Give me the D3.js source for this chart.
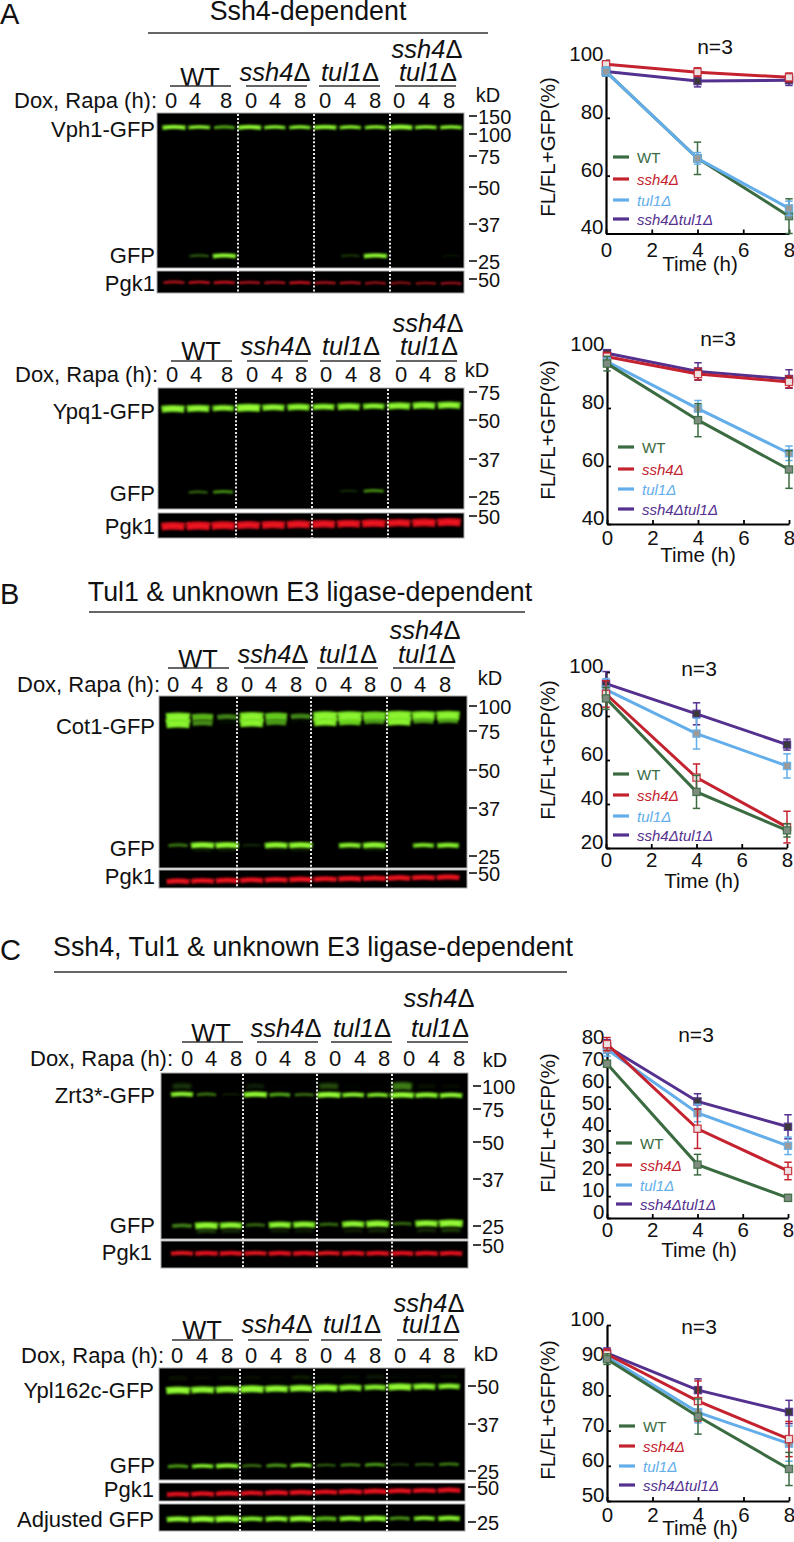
<!DOCTYPE html>
<html><head><meta charset="utf-8">
<script src="https://cdn.jsdelivr.net/npm/d3@7"></script>
<style>
html,body{margin:0;padding:0;background:#fff}
svg{display:block}
text{font-family:"Liberation Sans",Arial,sans-serif;fill:#111}
</style></head><body><svg id="c" width="794" height="1542"></svg>
<script>
// ---------- DATA ----------
const hours = [0, 4, 8];
const seriesNames = ['WT', 'ssh4Δ', 'tul1Δ', 'ssh4Δtul1Δ'];
const genotypes = ['WT', 'ssh4Δ', 'tul1Δ', 'ssh4Δ|tul1Δ'];
const laneHours = [0, 4, 8, 0, 4, 8, 0, 4, 8, 0, 4, 8];

// densitometry means and errors (rows: WT, ssh4, tul1, double)
const vph1Mean = [[96, 66, 46], [98.5, 95.8, 94], [96, 66, 48.7], [96, 92.7, 93]];
const vph1Err = [[1.5, 5.6, 6], [1.2, 1.5, 1.5], [1.5, 2, 2.5], [1.5, 2, 1.8]];
const ypq1Mean = [[95.3, 75.8, 58.8], [97.7, 91.7, 89], [96, 79.8, 64.4], [98.9, 92.6, 90]];
const ypq1Err = [[2.5, 5.7, 6.5], [1.5, 2, 2], [1.5, 2.8, 2.5], [1.2, 3, 3.2]];
const cot1Mean = [[88, 45.5, 28], [90, 52, 29.5], [92, 72, 57.3], [94.7, 81, 67]];
const cot1Err = [[5, 7.5, 3], [6, 6.2, 7.2], [5, 7, 5.5], [5.5, 5, 2.5]];
const zrt3Mean = [[70.5, 24.4, 9.2], [79.5, 40.8, 21.5], [77, 48, 33], [78.5, 53.3, 41.7]];
const zrt3Err = [[1.5, 4.7, 1.5], [3, 9, 4], [3, 4, 4], [3, 3.5, 5.5]];
const ypl162Mean = [[90.3, 74, 59.1], [91.7, 78.4, 67.6], [91, 75.2, 66.3], [92, 81.5, 75.3]];
const ypl162Err = [[1.5, 5, 4.7], [1.5, 5.7, 5], [1.5, 3, 5], [1.5, 3.2, 3.3]];

// axis ticks
const ticksA = [40, 60, 80, 100];
const ticksB = [20, 40, 60, 80, 100];
const ticksC = [0, 10, 20, 30, 40, 50, 60, 70, 80];
const ticksD = [50, 60, 70, 80, 90, 100];
const timeTicks = [0, 2, 4, 6, 8];

// band intensities per lane (0..1)
const vph1FL = [.95, .75, .55, .95, .7, .7, .9, .7, .7, 1, .75, .75];
const vph1GFP = [0, .3, .95, 0, 0, 0, 0, .2, .95, 0, 0, .1];
const vph1Pgk = [.6, .65, .65, .6, .6, .65, .6, .6, .55, .5, .5, .55];
const ypq1FL = [.9, .85, .7, 1, .8, .8, .75, .8, .7, .85, .85, .85];
const ypq1GFP = [0, .3, .45, 0, 0, .04, 0, .15, .45, 0, 0, 0];
const ypq1Pgk = [.95, 1, .95, .9, .9, .9, .9, .9, .95, .9, .95, .95];
const cot1Upper = [1, .6, .4, .95, .7, .42, 1, 1, .85, 1, .9, .92];
const cot1Lower = [1, .45, .05, .95, .5, .05, .9, .75, .5, 1, .5, .5];
const cot1GFP = [.35, .95, .95, .15, .9, .95, 0, .75, .9, 0, .65, .75];
const cot1GFPlow = [0, .2, .2, 0, .15, .2, 0, .1, .2, 0, .05, .05];
const cot1Pgk = [.9, .9, .9, .9, .9, .9, .9, .9, .9, .9, .9, .9];
const zrt3FL = [.8, .35, .12, .95, .55, .35, 1, .75, .65, 1, .85, .85];
const zrt3Smear = [.2, .03, 0, .14, .04, .03, .25, .05, .04, .35, .1, .08];
const zrt3GFP = [.4, .9, .8, .3, .8, .8, .3, .8, .9, .3, .85, 1];
const zrt3GFPlow = [.05, .3, .25, 0, .2, .2, 0, .2, .25, 0, .25, .3];
const zrt3Pgk = [.8, .85, .85, .8, .85, .85, .8, .85, .85, .85, .85, .85];
const ypl162FL = [1, .9, .9, 1, .9, .9, .95, .8, .7, .95, .8, .7];
const ypl162Smear = [.12, .08, .1, .1, .08, .15, .06, .1, .14, .08, .08, .1];
const ypl162GFP = [.5, .7, .85, .35, .5, .65, .3, .4, .5, .2, .3, .4];
const ypl162Pgk = [.85, .9, .9, .85, .9, .9, .9, .95, .95, .9, .9, .9];
const ypl162Adj = [.85, .95, 1, .7, .8, .9, .6, .75, .85, .45, .65, .75];

// ---------- STYLES / LAYOUT ----------
const seriesColor = ['#3a6b41', '#c4222e', '#63aeea', '#54308f'];
const markerFill = ['#7f8c80', '#ece2e2', '#9a9a9a', '#3a3a3a'];

const svg = d3.select('#c');
const defs = svg.append('defs');
defs.append('filter').attr('id', 'soft').attr('filterUnits', 'userSpaceOnUse').attr('x', 0).attr('y', 0).attr('width', 794).attr('height', 1542)
  .append('feGaussianBlur').attr('stdDeviation', .85);
defs.append('filter').attr('id', 'soft2').attr('filterUnits', 'userSpaceOnUse').attr('x', 0).attr('y', 0).attr('width', 794).attr('height', 1542)
  .append('feGaussianBlur').attr('stdDeviation', 1.8);

function txt(x, y, s, size, anchor, opts) {
  const t = svg.append('text').attr('x', x).attr('y', y).attr('font-size', size).attr('text-anchor', anchor || 'start');
  if (opts && opts.italic) t.attr('font-style', 'italic');
  if (opts && opts.fill) t.style('fill', opts.fill);
  if (opts && opts.rotate) t.attr('transform', `rotate(-90 ${x} ${y})`);
  t.text(s);
  return t;
}
function greekUpright(sel) {
  const s = sel.text();
  sel.text(null);
  s.split(/(Δ)/).filter(Boolean).forEach(p => sel.append('tspan').attr('font-style', p === 'Δ' ? 'normal' : 'italic').text(p));
}

const headers = [
  {letter: 'A', lx: 0, ly: 24, title: 'Ssh4-dependent', tx: 308, ty: 20, rule: [148, 488, 33]},
  {letter: 'B', lx: 0, ly: 604, title: 'Tul1 & unknown E3 ligase-dependent', tx: 310, ty: 601, rule: [89, 525, 612]},
  {letter: 'C', lx: 0, ly: 960, title: 'Ssh4, Tul1 & unknown E3 ligase-dependent', tx: 313, ty: 956, rule: [54, 567, 972]}
];
headers.forEach(h => {
  txt(h.lx, h.ly, h.letter, 29);
  txt(h.tx, h.ty, h.title, 26.8, 'middle');
  svg.append('line').attr('x1', h.rule[0]).attr('x2', h.rule[1]).attr('y1', h.rule[2]).attr('y2', h.rule[2]).attr('stroke', '#333').attr('stroke-width', 1.5);
});

const green = d3.scaleLinear().domain([0, .25, .7, 1]).range(['#000', '#2c5a10', '#62c81a', '#7ce826']);
const red = d3.scaleLinear().domain([0, .6, 1]).range(['#000', '#b3131e', '#e0101c']);
const bandScale = d3.scaleSqrt().domain([0, 1]).range([.35, 1]);
const bandWidth = d3.scaleLinear().domain([0, 1]).range([17, 23.5]);

const blots = [
 {x: [157, 464], strips: [[113, 268], [271, 293]], dots: [238, 314, 390],
  gx: [200, 275, 350, 427], gx2: 428, base: 81, wtBase: 86, topBase: 58, under: 86,
  lines: [[170, 231], [246, 307], [319, 380], [395, 456]],
  dox: [14, 108], digits: [171, 195, 226, 251, 275, 300, 325, 350, 375, 399, 424, 449], kd: [488, 102],
  dash: 469, ladder: [['150', 117], ['100', 135], ['75', 157], ['50', 188], ['37', 225], ['25', 262], ['50', 280]],
  labels: [['Vph1-GFP', 155, 137], ['GFP', 155, 263], ['Pgk1', 155, 291]],
  laneX: [174, 451],
  tracks: [
   {v: vph1FL, y: [127, 127], t: 4.6},
   {v: vph1GFP, y: [255.5, 255.5], t: 4.6},
   {v: vph1Pgk, y: [282, 283], t: 3.6, red: true}]},
 {x: [158, 464], strips: [[388, 509], [513, 538]], dots: [236, 312, 388],
  gx: [201, 276, 351, 428], gx2: 429, base: 355, wtBase: 360, topBase: 332, under: 361,
  lines: [[171, 232], [247, 308], [320, 381], [396, 457]],
  dox: [15, 382], digits: [172, 196, 227, 252, 277, 301, 326, 351, 375, 401, 425, 450], kd: [477, 377],
  dash: 469, ladder: [['75', 393], ['50', 421], ['37', 460], ['25', 498], ['50', 517]],
  labels: [['Ypq1-GFP', 155, 419], ['GFP', 155, 501], ['Pgk1', 155, 534]],
  laneX: [173, 449],
  tracks: [
   {v: ypq1FL, y: [408.5, 405], t: 7.5},
   {v: ypq1GFP, y: [492, 490], t: 5},
   {v: ypq1Pgk, y: [526, 522], t: 8, red: true}]},
 {x: [159, 467], strips: [[696, 868], [870, 888]], dots: [237, 311, 387],
  gx: [198, 273, 348, 425], gx2: 427, base: 663, wtBase: 668, topBase: 639, under: 668,
  lines: [[168, 229], [244, 305], [317, 378], [393, 454]],
  dox: [17, 692], digits: [173, 197, 222, 247, 271, 296, 321, 346, 370, 396, 420, 445], kd: [490, 685],
  dash: 469, ladder: [['100', 707], ['75', 732], ['50', 771], ['37', 809], ['25', 857], ['50', 874]],
  labels: [['Cot1-GFP', 155, 734], ['GFP', 155, 856], ['Pgk1', 155, 884]],
  laneX: [178, 448],
  tracks: [
   {v: cot1Lower, y: [723, 720], t: 9, noCore: true},
   {v: cot1Upper, y: [717, 715], t: 9, noCore: true},
   {v: cot1GFPlow, y: [850, 849], t: 4, blur: true},
   {v: cot1GFP, y: [845, 845], t: 6},
   {v: cot1Pgk, y: [881, 877], t: 5.5, red: true}]},
 {x: [161, 468], strips: [[1073, 1239], [1241, 1268]], dots: [243, 317, 392],
  gx: [211, 286, 362, 439], gx2: 440, base: 1037, wtBase: 1042, topBase: 1007, under: 1042,
  lines: [[182, 243], [257, 318], [331, 392], [407, 468]],
  dox: [30, 1066], digits: [187, 211, 236, 261, 285, 310, 335, 360, 384, 409, 434, 459], kd: [495, 1067],
  dash: 473, ladder: [['100', 1087], ['75', 1110], ['50', 1143], ['37', 1180], ['25', 1227], ['50', 1246]],
  labels: [['Zrt3*-GFP', 155, 1103], ['GFP', 155, 1233], ['Pgk1', 152, 1260]],
  laneX: [182, 451],
  tracks: [
   {v: zrt3Smear, y: [1086, 1086], t: 14, blur: true},
   {v: zrt3FL, y: [1094, 1095], t: 5.5},
   {v: zrt3GFPlow, y: [1231, 1230], t: 5, blur: true},
   {v: zrt3GFP, y: [1225.5, 1223], t: 7},
   {v: zrt3Pgk, y: [1253, 1253], t: 5, red: true}]},
 {x: [159, 465], strips: [[1368, 1480], [1483, 1501], [1504, 1531]], dots: [240, 314, 387],
  gx: [202, 277, 352, 429], gx2: 431, base: 1333, wtBase: 1339, topBase: 1312, under: 1340,
  lines: [[172, 233], [248, 309], [321, 382], [397, 458]],
  dox: [21, 1363], digits: [177, 202, 227, 251, 276, 301, 326, 350, 375, 400, 425, 449], kd: [486, 1361],
  dash: 468, ladder: [['50', 1387], ['37', 1425], ['25', 1472], ['50', 1488], ['25', 1523]],
  labels: [['Ypl162c-GFP', 154, 1398], ['GFP', 155, 1473], ['Pgk1', 154, 1497], ['Adjusted GFP', 154, 1527]],
  laneX: [178, 449],
  tracks: [
   {v: ypl162Smear, y: [1378, 1376], t: 10, blur: true},
   {v: ypl162FL, y: [1390, 1386], t: 7},
   {v: ypl162GFP, y: [1466, 1464], t: 5},
   {v: ypl162Pgk, y: [1494, 1490], t: 5, red: true},
   {v: ypl162Adj, y: [1519, 1518], t: 6}]}
];

// a band is a shallow arc, thicker and brighter with intensity
function bandPath(cx, cy, w) {
  return `M${cx - w / 2},${cy + .7}Q${cx},${cy - .9} ${cx + w / 2},${cy + .7}`;
}

blots.forEach((b, bi) => {
  const laneX = d3.scaleLinear().domain([0, 11]).range(b.laneX);
  const clipId = 'clip' + bi;
  const clip = defs.append('clipPath').attr('id', clipId);
  b.strips.forEach(s => {
    clip.append('rect').attr('x', b.x[0]).attr('y', s[0]).attr('width', b.x[1] - b.x[0]).attr('height', s[1] - s[0]);
    svg.append('rect').attr('x', b.x[0]).attr('y', s[0]).attr('width', b.x[1] - b.x[0]).attr('height', s[1] - s[0])
      .attr('fill', '#000').attr('stroke', '#a8a8a8').attr('stroke-width', 1);
  });
  const bandG = svg.append('g').attr('clip-path', `url(#${clipId})`);
  b.tracks.forEach(tr => {
    const col = tr.red ? red : green;
    const laneY = d3.scaleLinear().domain([0, 11]).range(tr.y);
    const g = bandG.append('g').attr('filter', tr.blur ? 'url(#soft2)' : 'url(#soft)');
    const pts = tr.v.map((v, i) => ({v, i})).filter(d => d.v > 0);
    g.selectAll('path.b').data(pts).join('path').attr('class', 'b')
      .attr('d', d => bandPath(laneX(d.i), laneY(d.i), bandWidth(d.v)))
      .attr('fill', 'none')
      .attr('stroke-width', d => tr.t * bandScale(d.v) * d.v ** .35)
      .attr('stroke', d => tr.blur ? col(d.v + .12) : col(d.v))
      .attr('stroke-opacity', d => tr.blur ? Math.min(1, d.v * 2.5) : 1);
    if (!tr.blur && !tr.noCore) {
      g.selectAll('path.core').data(pts.filter(d => d.v > .6)).join('path').attr('class', 'core')
        .attr('d', d => bandPath(laneX(d.i), laneY(d.i), bandWidth(d.v) - 5))
        .attr('fill', 'none')
        .attr('stroke-width', d => tr.t * d.v * .34)
        .attr('stroke', tr.red ? '#ee1520' : '#a2ff40');
    }
    if (tr.noCore) {
      g.selectAll('path.core').data(pts.filter(d => d.v > .85)).join('path').attr('class', 'core')
        .attr('d', d => bandPath(laneX(d.i), laneY(d.i), bandWidth(d.v) - 5))
        .attr('fill', 'none')
        .attr('stroke-width', tr.t * .5)
        .attr('stroke', '#8ef432');
    }
  });
  // dotted lane separators
  const top = b.strips[0][0] + 1, bot = b.strips[b.strips.length - 1][1];
  svg.selectAll(null).data(b.dots).join('line')
    .attr('x1', d => d).attr('x2', d => d).attr('y1', top).attr('y2', bot)
    .attr('stroke', '#fff').attr('stroke-width', 1.8).attr('stroke-dasharray', '2,1.9');

  // genotype headings
  genotypes.forEach((g, i) => {
    const parts = g.split('|');
    if (i === 0) {
      txt(b.gx[i], b.wtBase, parts[0], 25.5, 'middle');
    } else if (parts.length === 1) {
      greekUpright(txt(b.gx[i], b.base, parts[0], 25.5, 'middle'));
    } else {
      greekUpright(txt(b.gx[i], b.topBase, parts[0], 25.5, 'middle'));
      greekUpright(txt(b.gx2, b.base, parts[1], 25.5, 'middle'));
    }
    svg.append('line').attr('x1', b.lines[i][0]).attr('x2', b.lines[i][1]).attr('y1', b.under).attr('y2', b.under)
      .attr('stroke', '#333').attr('stroke-width', 1.4);
  });
  txt(b.dox[0], b.dox[1], 'Dox, Rapa (h):', 22);
  laneHours.forEach((h, i) => txt(b.digits[i], b.dox[1], h, 22, 'middle'));
  txt(b.kd[0], b.kd[1], 'kD', 20, 'middle');
  b.ladder.forEach(l => {
    svg.append('line').attr('x1', b.dash).attr('x2', b.dash + 8).attr('y1', l[1] - 1).attr('y2', l[1] - 1)
      .attr('stroke', '#111').attr('stroke-width', 1.6);
    txt(b.dash + 9, l[1] + 7, l[0], 20);
  });
  b.labels.forEach(l => txt(l[1], l[2], l[0], 22, 'end'));
});

// ---------- LINE CHARTS ----------
const charts = [
 {mean: vph1Mean, err: vph1Err, dom: [40, 100], ticks: ticksA, x: [606, 789], y: [233.5, 60], order: [3, 1, 0, 2],
  tickDy: 23, time: [700, 271], n: [715, 54], ylab: [555, 147], leg: {x: 613, ys: [157, 179, 200, 219]}},
 {mean: ypq1Mean, err: ypq1Err, dom: [40, 100], ticks: ticksA, x: [607, 789], y: [524, 350], order: [3, 1, 2, 0],
  tickDy: 21, time: [698, 562], n: [718, 346], ylab: [555, 430], leg: {x: 618, ys: [447, 469, 489, 509]}},
 {mean: cot1Mean, err: cot1Err, dom: [20, 100], ticks: ticksB, x: [606, 787], y: [848, 672], order: [3, 2, 1, 0],
  tickDy: 19, time: [702, 888], n: [699, 676], ylab: [555, 750], leg: {x: 613, ys: [774, 795, 816, 835]}},
 {mean: zrt3Mean, err: zrt3Err, dom: [0, 80], ticks: ticksC, x: [607, 788], y: [1218, 1043], order: [3, 2, 1, 0],
  tickDy: 19, time: [699, 1257], n: [696, 1042], ylab: [555, 1123], leg: {x: 616, ys: [1143, 1165, 1185, 1204]}},
 {mean: ypl162Mean, err: ypl162Err, dom: [50, 100], ticks: ticksD, x: [607, 789], y: [1501, 1325], order: [3, 2, 1, 0],
  tickDy: 21, time: [700, 1535], n: [699, 1334], ylab: [555, 1410], leg: {x: 619, ys: [1426, 1446, 1466, 1485]}}
];

charts.forEach(c => {
  const x = d3.scaleLinear().domain([0, 8]).range(c.x);
  const y = d3.scaleLinear().domain(c.dom).range(c.y);
  const ya = svg.append('g').attr('transform', `translate(${c.x[0]},0)`)
    .call(d3.axisLeft(y).tickValues(c.ticks).tickSize(-4).tickSizeOuter(0));
  const xa = svg.append('g').attr('transform', `translate(0,${c.y[0]})`)
    .call(d3.axisBottom(x).tickValues(timeTicks).tickSize(-4).tickSizeOuter(0));
  [ya, xa].forEach(a => {
    a.select('.domain').attr('stroke', '#000').attr('stroke-width', 2.2);
    a.selectAll('.tick line').attr('stroke', '#000').attr('stroke-width', 1.8);
    a.selectAll('text').attr('font-family', '"Liberation Sans",Arial,sans-serif').attr('font-size', 20.5).style('fill', '#111');
  });
  ya.selectAll('text').attr('x', -2.5).attr('dy', '0.02em');
  xa.selectAll('text').attr('y', c.tickDy).attr('dy', 0);

  const line = d3.line().x((d, i) => x(hours[i])).y(d => y(d));
  c.order.forEach(s => {
    const g = svg.append('g');
    const col = seriesColor[s];
    const pts = c.mean[s].map((m, i) => ({h: hours[i], m, e: c.err[s][i]}));
    g.selectAll('line.bar').data(pts).join('line').attr('class', 'bar')
      .attr('x1', d => x(d.h)).attr('x2', d => x(d.h)).attr('y1', d => y(d.m - d.e)).attr('y2', d => y(d.m + d.e))
      .attr('stroke', col).attr('stroke-width', 1.5);
    ['-1', '1'].forEach(sg => {
      g.selectAll('line.cap' + sg).data(pts).join('line').attr('class', 'cap' + sg)
        .attr('x1', d => x(d.h) - 3.7).attr('x2', d => x(d.h) + 3.7)
        .attr('y1', d => y(d.m + sg * d.e)).attr('y2', d => y(d.m + sg * d.e))
        .attr('stroke', col).attr('stroke-width', 1.5);
    });
    g.append('path').datum(c.mean[s]).attr('d', line).attr('fill', 'none').attr('stroke', col).attr('stroke-width', 3);
    g.selectAll('rect').data(pts).join('rect')
      .attr('x', d => x(d.h) - 3.6).attr('y', d => y(d.m) - 3.6).attr('width', 7.2).attr('height', 7.2)
      .attr('fill', markerFill[s]).attr('stroke', col).attr('stroke-opacity', .85).attr('stroke-width', 1.3);
  });

  txt(c.n[0], c.n[1], 'n=3', 21, 'middle');
  txt(c.time[0], c.time[1], 'Time (h)', 20.5, 'middle');
  txt(c.ylab[0], c.ylab[1], 'FL/FL+GFP(%)', 20.5, 'middle', {rotate: true});

  seriesNames.forEach((name, i) => {
    const ly = c.leg.ys[i];
    svg.append('line').attr('x1', c.leg.x).attr('x2', c.leg.x + 16).attr('y1', ly).attr('y2', ly)
      .attr('stroke', seriesColor[i]).attr('stroke-width', 3.2);
    txt(c.leg.x + 24, ly + 5.5, name, 15, 'start', {italic: i > 0, fill: seriesColor[i]});
  });
});
</script></body></html>
